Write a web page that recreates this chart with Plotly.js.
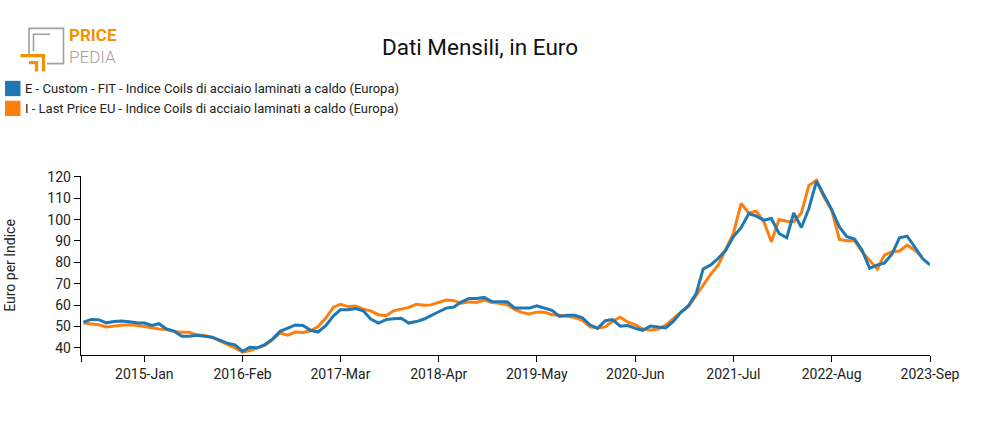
<!DOCTYPE html>
<html>
<head>
<meta charset="utf-8">
<script src="https://cdn.plot.ly/plotly-3.0.1.min.js"></script>
<style>
html,body{margin:0;padding:0;background:#fff;}
#chart{width:985px;height:430px;}
</style>
</head>
<body>
<div id="chart"></div>
<script>
// ---- DATA ----
const startMonth = '2014-05';
const monthCount = 113;
const seriesNames = [
  'E - Custom - FIT - Indice Coils di acciaio laminati a caldo (Europa)',
  'I - Last Price EU - Indice Coils di acciaio laminati a caldo (Europa)'
];
const seriesColors = ['#1f77b4', '#ff7f0e'];
const blueValues = [
  52.0,53.3,53.2,51.7,52.3,52.5,52.2,51.7,51.6,50.5,
  51.3,48.8,47.8,45.4,45.4,45.9,45.4,45.0,43.6,42.2,
  41.4,38.4,40.3,40.0,41.5,44.2,47.7,49.3,50.7,50.5,
  48.2,47.4,50.4,55.0,57.8,57.8,58.4,57.3,53.5,51.6,
  53.2,53.6,53.8,51.6,52.3,53.5,55.3,56.9,58.6,59.1,
  61.4,63.1,63.1,63.6,61.7,61.7,61.6,58.6,58.6,58.6,
  59.7,58.6,57.5,54.7,55.2,55.2,54.0,50.8,49.1,52.7,
  53.2,50.1,50.4,49.1,48.2,50.2,49.6,49.3,52.4,56.6,
  59.7,65.4,76.9,78.8,81.9,85.8,92.0,96.2,102.8,101.6,
  99.7,100.5,93.5,91.5,103.1,96.3,105.2,118.0,111.4,104.7,
  96.6,92.0,90.9,85.8,77.2,78.8,79.6,83.9,91.5,92.3,
  87.3,81.9,78.8
];
const orangeValues = [
  51.6,51.3,50.8,49.8,50.3,50.6,50.8,50.6,50.0,49.3,
  48.8,48.6,47.6,47.3,47.3,46.1,45.8,44.9,43.3,41.9,
  40.0,38.0,38.7,40.0,41.2,43.9,47.0,45.9,47.4,47.2,
  48.0,50.0,53.9,59.0,60.4,59.3,59.6,58.1,57.3,55.5,
  55.0,57.3,58.1,58.9,60.4,59.9,60.1,61.2,62.4,62.1,
  60.9,61.5,61.2,62.3,61.2,60.9,60.2,58.0,56.6,55.8,
  56.7,56.7,55.5,55.3,54.9,54.2,52.9,49.8,49.3,49.8,
  52.4,54.3,52.1,50.8,48.8,48.4,48.8,50.6,53.7,56.3,
  59.4,64.5,69.5,74.5,78.8,86.1,93.5,107.5,103.1,103.9,
  99.0,89.6,100.0,99.2,99.0,103.1,116.0,118.4,110.6,104.4,
  90.7,90.1,90.1,85.0,81.1,76.8,83.4,85.0,85.3,88.1,
  85.8,82.4,null
];
const tickDates = ['2015-01-01','2016-02-01','2017-03-01','2018-04-01','2019-05-01','2020-06-01','2021-07-01','2022-08-01','2023-09-01'];
const tickLabels = ['2015-Jan','2016-Feb','2017-Mar','2018-Apr','2019-May','2020-Jun','2021-Jul','2022-Aug','2023-Sep'];
const yTicks = [40,50,60,70,80,90,100,110,120];
const titleText = 'Dati Mensili, in Euro';
const yTitleText = 'Euro per Indice';

// ---- build dates ----
const dates = [];
(function(){
  let y = parseInt(startMonth.slice(0,4),10), m = parseInt(startMonth.slice(5,7),10);
  for (let k = 0; k < monthCount; k++) {
    dates.push(y + '-' + String(m).padStart(2,'0') + '-01');
    m++; if (m > 12) { m = 1; y++; }
  }
})();

// ---- layout geometry (pixels) ----
const W = 985, H = 430;
const M = {l: 81, r: 55, t: 175.5, b: 74.5};
const PW = W - M.l - M.r, PH = H - M.t - M.b;
const px = x => (x - M.l) / PW;
const py = y => 1 - (y - M.t) / PH;

const font = 'Roboto, "Noto Sans", sans-serif';

const traces = [
  {x: dates, y: orangeValues, name: seriesNames[1], type: 'scatter', mode: 'lines',
   line: {color: seriesColors[1], width: 3}, connectgaps: false, hoverinfo: 'x+y'},
  {x: dates, y: blueValues, name: seriesNames[0], type: 'scatter', mode: 'lines',
   line: {color: seriesColors[0], width: 3}, hoverinfo: 'x+y'}
];

const shapes = [];
const annotations = [];

// legend swatches + labels (manual, square swatches)
seriesNames.forEach((nm, k) => {
  const cy = 87.5 + k * 20;
  shapes.push({type: 'rect', xref: 'paper', yref: 'paper',
    x0: px(5), x1: px(20.5), y0: py(cy - 7.7), y1: py(cy + 7.7),
    fillcolor: seriesColors[k], line: {width: 0}});
  annotations.push({xref: 'paper', yref: 'paper', x: px(23), y: py(cy),
    xanchor: 'left', yanchor: 'middle', showarrow: false, text: nm,
    font: {family: font, size: 13, color: '#222'}});
});

// logo
const gray = '#a0a0a0', orng = '#f39200';
shapes.push({type: 'path', xref: 'paper', yref: 'paper',
  path: `M ${px(29)} ${py(56)} L ${px(29)} ${py(27)} L ${px(63.5)} ${py(27)} L ${px(63.5)} ${py(62.5)} L ${px(47)} ${py(62.5)}`,
  line: {color: gray, width: 1.6}});
shapes.push({type: 'path', xref: 'paper', yref: 'paper',
  path: `M ${px(33.5)} ${py(50)} L ${px(33.5)} ${py(33)} L ${px(50)} ${py(33)}`,
  line: {color: gray, width: 1.6}});
shapes.push({type: 'path', xref: 'paper', yref: 'paper',
  path: `M ${px(20.5)} ${py(54.5)} L ${px(43.5)} ${py(54.5)} L ${px(43.5)} ${py(70.5)}`,
  line: {color: orng, width: 3.2}});
shapes.push({type: 'path', xref: 'paper', yref: 'paper',
  path: `M ${px(29)} ${py(61.5)} L ${px(36.5)} ${py(61.5)} L ${px(36.5)} ${py(70.5)}`,
  line: {color: orng, width: 3.2}});
annotations.push({xref: 'paper', yref: 'paper', x: px(67), y: py(44.5), xanchor: 'left', yanchor: 'middle',
  showarrow: false, align: 'left',
  text: '<span style="color:' + orng + '"><b>PRICE</b></span><br><span style="color:' + gray + ';font-weight:300">PEDIA</span>',
  font: {family: font, size: 17, color: gray}});

const layout = {
  width: W, height: H,
  margin: M,
  paper_bgcolor: '#fff', plot_bgcolor: '#fff',
  showlegend: false,
  font: {family: font, size: 14, color: '#222'},
  title: {text: titleText, x: 480 / W, xanchor: 'center', y: 1 - 47 / H, yanchor: 'middle',
          font: {family: font, size: 22.5, color: '#111'}},
  xaxis: {
    type: 'date',
    range: ['2014-04-21', '2023-09-01'],
    tickmode: 'array',
    tickvals: ['2014-04-21'].concat(tickDates),
    ticktext: [''].concat(tickLabels),
    ticks: 'outside', ticklen: 6, tickwidth: 1, tickcolor: '#000',
    showline: true, linecolor: '#000', linewidth: 1.3,
    showgrid: false, zeroline: false,
    tickfont: {family: font, size: 14, color: '#222'},
    fixedrange: true
  },
  yaxis: {
    range: [36.65, 120.4],
    tickmode: 'array', tickvals: yTicks,
    ticks: 'outside', ticklen: 6, tickwidth: 1, tickcolor: '#000',
    showline: true, linecolor: '#000', linewidth: 1.3,
    showgrid: false, zeroline: false,
    tickfont: {family: font, size: 14, color: '#222'},
    title: {text: yTitleText, standoff: 28, font: {family: font, size: 14, color: '#222'}},
    fixedrange: true
  },
  shapes: shapes,
  annotations: annotations
};

Plotly.newPlot('chart', traces, layout, {displayModeBar: false, staticPlot: true});
</script>
</body>
</html>
